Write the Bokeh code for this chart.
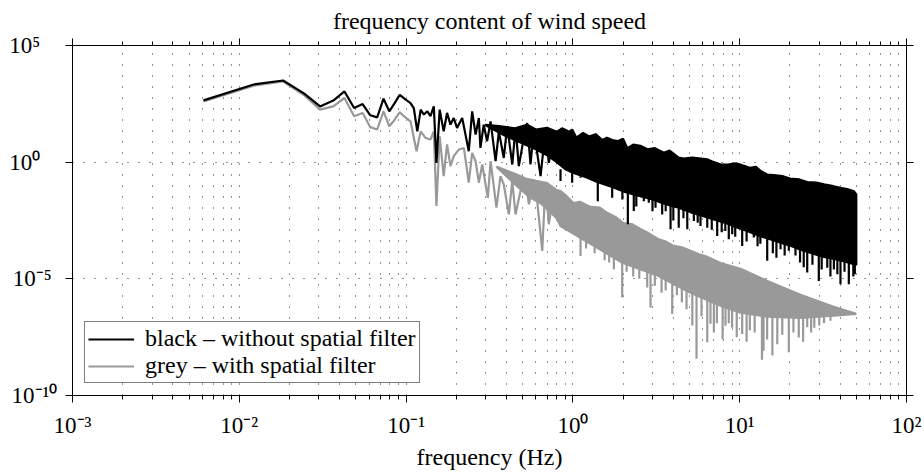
import numpy as np
from bokeh.plotting import figure
from bokeh.models import (Range1d, FixedTicker, LogAxis, Legend, LegendItem,
                          CustomJSTickFormatter)
from bokeh.embed import file_html
from bokeh.resources import INLINE

# ---------------- data (frequency in Hz, PSD given as log10 values) -------------
black_line_f = [0.0061, 0.0122, 0.0183, 0.0244, 0.0305, 0.0366, 0.0427, 0.0488, 0.0549, 0.0610,
                0.0671, 0.0732, 0.0793, 0.0854, 0.0916, 0.0977, 0.1063, 0.1112, 0.1167, 0.1223,
                0.1277, 0.134, 0.140, 0.1466, 0.152, 0.159, 0.168, 0.176, 0.1845, 0.193,
                0.202, 0.217, 0.2375, 0.249, 0.261, 0.273, 0.279, 0.292, 0.306, 0.321,
                0.344, 0.360, 0.385, 0.404, 0.433, 0.453, 0.474, 0.508, 0.532, 0.557,
                0.583, 0.640, 0.685, 0.717, 0.769, 0.805, 0.843]
black_line_lg = [2.65, 3.33, 3.50, 2.95, 2.39, 2.64, 3.03, 2.32, 2.49, 2.01,
                 1.92, 2.72, 2.18, 2.53, 2.89, 2.72, 2.53, 2.32, 1.32, 2.25,
                 2.04, 2.18, 1.97, 2.39, -0.03, 2.25, 1.32, 2.11, 1.61, 1.89,
                 1.47, 1.89, 0.47, 2.18, 1.18, 1.89, 0.61, 1.61, 0.90, 1.75,
                 0.04, 1.32, 0.18, 1.54, -0.10, 1.47, -0.17, 1.04, 1.68, -0.10,
                 1.40, -0.60, 1.40, -0.03, 1.18, 0.04, 0.90]

grey_line_f = [0.0061, 0.0122, 0.0183, 0.0244, 0.0305, 0.0366, 0.0427, 0.0488, 0.0549, 0.0610,
               0.0671, 0.0732, 0.0793, 0.0854, 0.0916, 0.0977, 0.1063, 0.1155, 0.1223, 0.1307,
               0.140, 0.1466, 0.152, 0.159, 0.168, 0.176, 0.1845, 0.193, 0.207, 0.222,
               0.2375, 0.249, 0.261, 0.273, 0.286, 0.309, 0.321, 0.348, 0.368, 0.385,
               0.413, 0.433, 0.453, 0.485, 0.520, 0.545, 0.583, 0.611, 0.655, 0.685,
               0.717, 0.769, 0.805, 0.843]
grey_line_lg = [2.60, 3.28, 3.46, 2.88, 2.25, 2.39, 2.75, 1.97, 2.11, 1.50,
                1.40, 2.18, 1.54, 1.82, 2.14, 1.95, 1.75, 0.47, 1.32, 1.04,
                0.97, 1.32, -1.88, 1.11, -0.60, 0.76, -0.17, 0.26, 0.54, 0.61,
                -0.88, 0.40, 0.04, -0.88, -0.10, -1.53, 0.04, -1.95, -0.60, -0.95,
                -2.24, -0.81, -2.24, -1.24, -0.74, -1.81, -0.74, -1.67, -3.80, -0.88,
                -2.66, -1.24, -2.52, -1.53]

# dense high-frequency part: upper / lower extent of the trace
black_band_upper_f = [0.30, 0.36, 0.45, 0.53, 0.60, 0.70, 0.80, 0.86, 0.95, 0.99,
                      1.05, 1.15, 1.25, 1.37, 1.50, 1.60, 1.72, 1.85, 2.00, 2.12,
                      2.30, 2.54, 2.80, 3.10, 3.51, 3.80, 4.30, 4.62, 5.20, 6.38,
                      7.0, 7.7, 8.5, 9.5, 10.5, 11.5, 12.5, 13.5, 14.6, 16.0,
                      18.0, 20.0, 22.8, 25.4, 28.8, 32.0, 36.5, 40.2, 44.0, 48.5,
                      50.0]
black_band_upper_lg = [1.60, 1.55, 1.45, 1.60, 1.40, 1.47, 1.30, 1.45, 1.30, 1.40,
                       1.05, 1.25, 1.10, 1.20, 0.95, 1.05, 0.95, 0.90, 1.00, 0.60,
                       0.75, 0.70, 0.55, 0.60, 0.40, 0.50, 0.20, 0.15, 0.20, 0.12,
                       0.0, -0.10, -0.10, -0.05, -0.15, -0.24, -0.20, -0.40, -0.53, -0.55,
                       -0.60, -0.70, -0.74, -0.85, -0.88, -0.95, -1.03, -1.10, -1.15, -1.25,
                       -1.38]
black_band_lower_f = [0.30, 0.40, 0.50, 0.60, 0.70, 0.80, 0.90, 1.00, 1.20, 1.40,
                      1.70, 2.00, 2.50, 3.00, 3.60, 4.30, 5.10, 6.00, 7.00, 8.20,
                      9.60, 11.1, 13.0, 15.2, 17.6, 20.5, 23.2, 27.0, 31.5, 36.7,
                      42.5, 50.0]
black_band_lower_lg = [1.58, 1.10, 0.80, 0.55, 0.30, 0.00, -0.30, -0.45, -0.65, -0.85,
                       -1.05, -1.25, -1.45, -1.60, -1.80, -1.95, -2.15, -2.30, -2.45, -2.60,
                       -2.80, -2.95, -3.15, -3.30, -3.45, -3.60, -3.75, -3.90, -4.05, -4.15,
                       -4.25, -4.40]
black_spike_f = [0.843, 0.99, 1.111, 1.41, 1.72, 1.98, 2.135, 2.318, 2.662, 2.851,
                 3.128, 3.43, 3.6, 3.85, 4.31, 4.85, 5.31, 5.82, 6.39, 7.33,
                 8.2, 9.02, 9.4, 10.35, 12.15, 13.3, 14.62, 17.57, 19.7, 21.6,
                 25.4, 27.3, 29.8, 33.5, 36.7, 40.2, 45.1, 48.0,
                 2.4, 3.0, 4.0, 4.6, 5.6, 6.8, 7.8, 8.6, 11.0, 12.8,
                 15.8, 16.6, 18.6, 23.0, 24.2, 31.0, 35.0, 38.5, 42.5, 49.0]
black_spike_base = [-0.3, -0.4, -0.6, -0.8, -1.0, -1.2, -1.3, -1.4, -1.5, -1.55,
                    -1.65, -1.75, -1.8, -1.85, -1.95, -2.1, -2.15, -2.25, -2.3, -2.45,
                    -2.6, -2.7, -2.75, -2.85, -3.0, -3.1, -3.25, -3.45, -3.55, -3.65,
                    -3.8, -3.85, -3.95, -4.05, -4.1, -4.2, -4.3, -4.35,
                    -1.4, -1.6, -1.9, -2.0, -2.2, -2.4, -2.55, -2.65, -2.9, -3.1,
                    -3.3, -3.35, -3.5, -3.7, -3.75, -4.0, -4.1, -4.15, -4.25, -4.35]
black_spike_tip = [-0.81, -0.885, -0.67, -1.67, -1.53, -1.60, -2.66, -2.09, -1.67, -1.74,
                   -1.95, -2.24, -2.10, -2.88, -2.81, -2.88, -2.52, -2.74, -2.81, -3.16,
                   -2.95, -3.09, -3.20, -3.59, -3.23, -3.50, -4.23, -3.73, -3.80, -4.0,
                   -4.73, -4.4, -5.09, -4.52, -4.6, -5.23, -5.23, -4.9,
                   -1.9, -2.1, -2.5, -2.4, -2.6, -2.9, -3.0, -3.3, -3.4, -3.6,
                   -3.9, -4.1, -4.0, -4.3, -4.5, -4.6, -4.9, -4.8, -4.7, -4.8]

grey_band_upper_f = [0.35, 0.45, 0.52, 0.60, 0.70, 0.80, 0.843, 0.90, 1.007, 1.10,
                     1.275, 1.45, 1.613, 1.80, 2.01, 2.25, 2.54, 2.85, 3.24, 3.6,
                     4.01, 4.5, 5.07, 5.7, 6.41, 7.67, 10.1, 14.65, 23.15, 36.6,
                     50.0]
grey_band_upper_lg = [-0.20, -0.50, -0.70, -0.80, -0.90, -1.20, -1.24, -1.40, -1.75, -1.70,
                      -1.92, -1.95, -2.18, -2.35, -2.61, -2.65, -2.86, -3.05, -3.29, -3.40,
                      -3.59, -3.65, -3.80, -3.95, -4.06, -4.32, -4.57, -5.09, -5.68, -6.20,
                      -6.50]
grey_band_lower_f = [0.35, 0.45, 0.55, 0.65, 0.80, 0.843, 1.275, 1.99, 3.24, 5.07,
                     7.67, 10.1, 14.65, 23.15, 36.6, 50.0]
grey_band_lower_lg = [-0.22, -0.95, -1.50, -1.80, -2.40, -2.74, -3.50, -4.32, -4.87, -5.60,
                      -6.15, -6.45, -6.62, -6.67, -6.58, -6.50]
grey_spike_f = [1.111, 1.35, 1.55, 1.76, 1.975, 2.3, 2.79, 2.92, 3.4, 3.94,
                4.5, 5.2, 5.51, 6.39, 6.68, 7.3, 8.22, 9.0, 10.35, 11.5,
                13.6, 13.9, 15.7, 18.0, 19.7, 22.6, 25.4, 28.0, 32.0,
                1.2, 1.65, 2.1, 2.5, 3.1, 3.6, 4.2, 4.8, 5.9, 7.0,
                7.9, 8.6, 9.6, 11.0, 12.3, 14.6, 16.8, 21.0, 24.0, 26.8,
                30.0, 35.0]
grey_spike_base = [-3.1, -3.35, -3.6, -3.8, -4.0, -4.2, -4.5, -4.55, -4.65, -4.95,
                   -5.1, -5.3, -5.4, -5.6, -5.7, -5.8, -5.9, -6.0, -6.1, -6.2,
                   -6.3, -6.3, -6.35, -6.4, -6.4, -6.4, -6.4, -6.4, -6.35,
                   -3.2, -3.7, -4.1, -4.35, -4.6, -4.75, -5.0, -5.2, -5.5, -5.75,
                   -5.85, -5.95, -6.05, -6.15, -6.25, -6.3, -6.35, -6.4, -6.4, -6.4,
                   -6.4, -6.35]
grey_spike_tip = [-4.02, -3.9, -4.2, -4.59, -5.80, -4.9, -5.37, -6.23, -5.6, -6.51,
                  -6.0, -7.0, -8.43, -7.72, -6.92, -6.9, -7.01, -7.1, -7.36, -7.2,
                  -8.47, -8.08, -8.29, -7.4, -8.15, -7.51, -7.08, -7.1, -6.9,
                  -3.7, -4.3, -4.7, -5.0, -5.3, -5.5, -5.7, -6.3, -6.6, -7.3,
                  -7.6, -6.9, -7.5, -7.7, -7.3, -7.6, -7.8, -7.3, -7.7, -7.3,
                  -7.0, -6.8]

x_major_ticks = [1e-3, 1e-2, 1e-1, 1e0, 1e1, 1e2]
x_minor_ticks = [m * 10.0 ** e for e in range(-3, 2) for m in range(2, 10)]
y_major_ticks = [1e-10, 1e-5, 1e0, 1e5]

title_text = "frequency content of wind speed"
x_label = "frequency (Hz)"
legend_labels = ["black \u2013 without spatial filter", "grey \u2013 with spatial filter"]


def pw(a):
    return [10.0 ** v for v in a]


BLACK = "#000000"
GREY = "#999999"
FONT = "Liberation Serif"

p = figure(width=924, height=475, x_axis_type="log", y_axis_type="log",
           x_range=Range1d(1e-3, 1e2), y_range=Range1d(1e-10, 1e5),
           output_backend="svg", toolbar_location=None,
           min_border_left=72, min_border_right=18, min_border_top=44, min_border_bottom=80,
           title=title_text)
p.outline_line_color = None
p.background_fill_color = "white"
p.border_fill_color = "white"
p.title.align = "center"
p.title.text_font = FONT
p.title.text_font_size = "24px"
p.title.text_font_style = "normal"
p.title.text_color = "black"

xt = FixedTicker(ticks=x_major_ticks, minor_ticks=x_minor_ticks)
yt = FixedTicker(ticks=y_major_ticks, minor_ticks=[])

SUP = """
const e = Math.round(Math.log10(tick));
const m = {'-':'\u207b','0':'\u2070','1':'\u00b9','2':'\u00b2','3':'\u00b3','4':'\u2074',
           '5':'\u2075','6':'\u2076','7':'\u2077','8':'\u2078','9':'\u2079'};
const s = String(e);
let lab = '10' + s.split('').map(c => m[c]).join('');
"""
x_js = SUP + "return lab;"
# left-axis labels start at a common left edge, as in the reference
y_js = SUP + "const pad = {1: 3, 2: 1, 3: 0}[s.length]; return lab + '\u00a0'.repeat(pad);"
blank_js = "return '';"


def style_axis(ax, minor, code):
    ax.axis_line_color = "black"
    ax.axis_line_width = 1
    ax.major_tick_in = 0
    ax.major_tick_out = 7
    ax.minor_tick_in = 0
    ax.minor_tick_out = 4 if minor else 0
    ax.major_tick_line_color = "black"
    ax.minor_tick_line_color = "black"
    ax.major_label_text_font = FONT
    ax.major_label_text_font_size = "23px"
    ax.major_label_text_color = "black"
    ax.formatter = CustomJSTickFormatter(code=code)
    if code == blank_js:
        ax.major_label_standoff = 0


xa = p.xaxis[0]
xa.ticker = xt
style_axis(xa, True, x_js)
xa.major_label_standoff = 10
xa.axis_label = x_label
xa.axis_label_text_font = FONT
xa.axis_label_text_font_size = "24px"
xa.axis_label_text_font_style = "normal"
xa.axis_label_text_color = "black"
xa.axis_label_standoff = 3

ya = p.yaxis[0]
ya.ticker = yt
style_axis(ya, False, y_js)
ya.major_label_standoff = 8

top_ax = LogAxis(ticker=xt)
style_axis(top_ax, True, blank_js)
p.add_layout(top_ax, "above")
right_ax = LogAxis(ticker=yt)
style_axis(right_ax, False, blank_js)
p.add_layout(right_ax, "right")

p.xgrid.ticker = xt
p.xgrid.grid_line_color = "black"
p.xgrid.grid_line_alpha = 0.85
p.xgrid.grid_line_dash = "1 10"
p.xgrid.minor_grid_line_color = "black"
p.xgrid.minor_grid_line_alpha = 0.85
p.xgrid.minor_grid_line_dash = "1 10"
p.ygrid.ticker = yt
p.ygrid.grid_line_color = "black"
p.ygrid.grid_line_alpha = 0.85
p.ygrid.grid_line_dash = "1 10"

LW = 2.2

# grey trace (drawn first)
gx = grey_band_upper_f + grey_band_lower_f[::-1]
gy = pw(grey_band_upper_lg + grey_band_lower_lg[::-1])
p.patch(gx, gy, fill_color=GREY, line_color=GREY, line_width=LW)
p.segment(x0=grey_spike_f, y0=pw(grey_spike_base), x1=grey_spike_f, y1=pw(grey_spike_tip),
          line_color=GREY, line_width=LW)
grey_r = p.line(grey_line_f, pw(grey_line_lg), line_color=GREY, line_width=LW)

# black trace
bx = black_band_upper_f + black_band_lower_f[::-1]
by = pw(black_band_upper_lg + black_band_lower_lg[::-1])
p.patch(bx, by, fill_color=BLACK, line_color=BLACK, line_width=LW)
p.segment(x0=black_spike_f, y0=pw(black_spike_base), x1=black_spike_f, y1=pw(black_spike_tip),
          line_color=BLACK, line_width=LW)
black_r = p.line(black_line_f, pw(black_line_lg), line_color=BLACK, line_width=LW)

legend = Legend(items=[LegendItem(label=legend_labels[0], renderers=[black_r]),
                       LegendItem(label=legend_labels[1], renderers=[grey_r])],
                location=(12, 12))
legend.border_line_color = "black"
legend.border_line_width = 1
legend.background_fill_color = "white"
legend.background_fill_alpha = 1
legend.label_text_font = FONT
legend.label_text_font_size = "24px"
legend.label_text_color = "black"
legend.glyph_width = 46
legend.glyph_height = 22
legend.label_height = 22
legend.label_standoff = 11
legend.padding = 3
legend.spacing = 0
legend.margin = 0
p.add_layout(legend, "center")

open("out.html", "w").write(file_html(p, INLINE))
